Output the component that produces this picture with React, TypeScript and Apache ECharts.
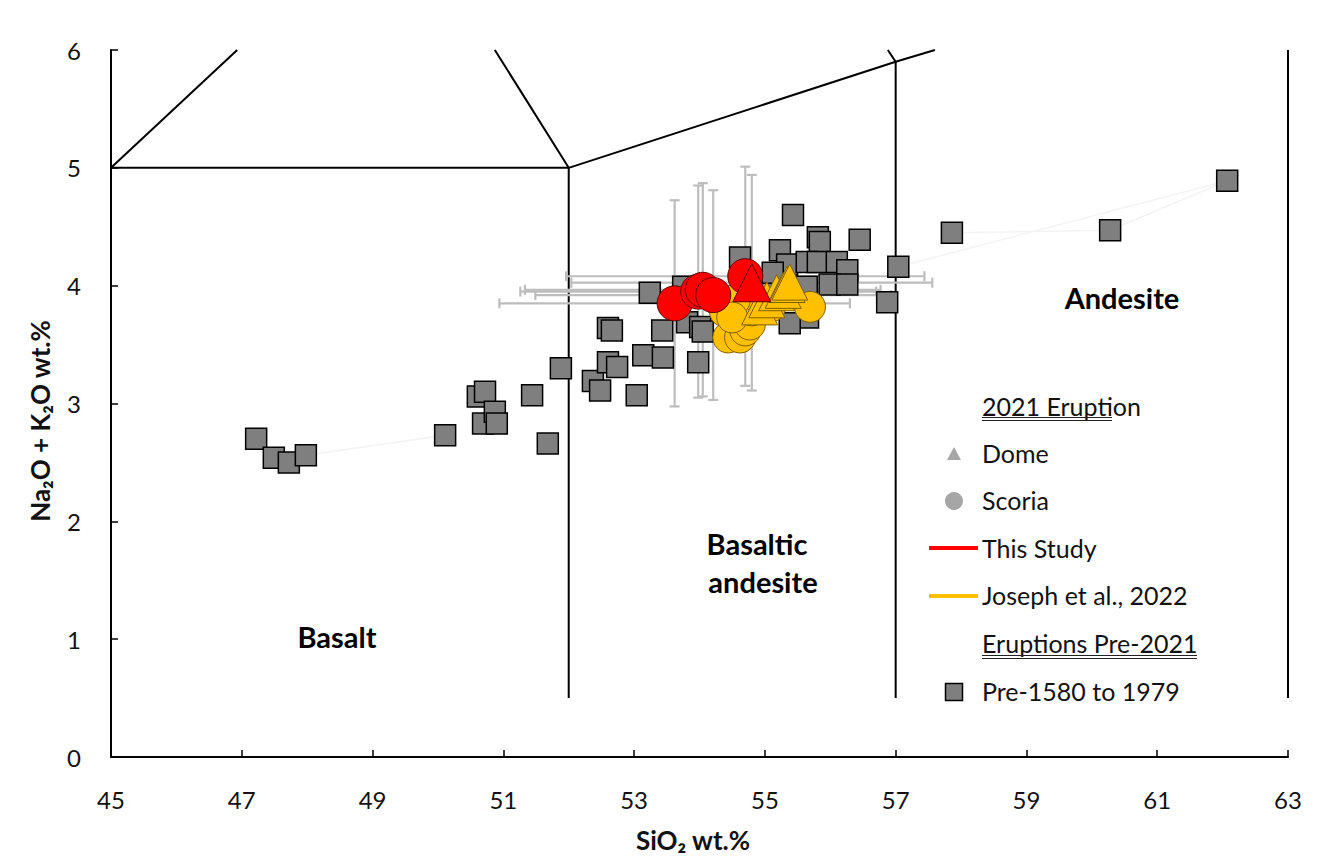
import React, { useEffect, useRef } from 'react';
import * as echarts from 'echarts';

// ---------- data (SiO2 wt.%, Na2O+K2O wt.%) ----------
const pre1580to1979: [number, number][] = [
  [47.22, 2.70], [47.49, 2.54], [47.72, 2.50], [47.98, 2.56],
  [50.11, 2.73], [50.61, 3.06], [50.72, 3.10], [50.69, 2.83], [50.87, 2.93], [50.90, 2.83],
  [51.44, 3.07], [51.68, 2.66], [51.88, 3.30],
  [52.37, 3.19], [52.48, 3.11], [52.60, 3.35], [52.74, 3.31], [52.60, 3.64], [52.66, 3.62],
  [53.04, 3.07], [53.14, 3.41], [53.43, 3.62], [53.44, 3.39], [53.24, 3.94], [53.75, 3.99],
  [53.98, 3.35], [53.81, 3.69], [54.01, 3.65], [54.05, 3.61], [54.62, 4.24],
  [55.43, 4.60], [55.23, 4.30], [55.81, 4.41], [55.84, 4.37], [56.45, 4.39],
  [55.34, 4.18], [55.64, 4.20], [55.81, 4.20], [56.10, 4.20], [56.26, 4.13],
  [55.99, 4.01], [56.26, 4.01], [55.64, 3.99], [55.66, 3.73], [55.38, 3.68],
  [55.19, 3.96], [55.12, 4.11], [56.87, 3.86], [57.04, 4.16],
  [57.86, 4.45], [60.28, 4.47], [62.07, 4.89],
];

// This study: [SiO2, total alkali, SiO2 error, alkali error]
const thisStudyScoria: [number, number, number, number][] = [
  [53.62, 3.85, 2.68, 0.875],
  [53.98, 3.95, 2.72, 0.90],
  [54.05, 3.965, 2.72, 0.905],
  [54.21, 3.92, 2.72, 0.89],
  [54.70, 4.08, 2.74, 0.93],
];
const thisStudyDome: [number, number, number, number][] = [
  [54.80, 4.025, 2.76, 0.915],
];

const josephScoria: [number, number][] = [
  [54.28, 3.88], [54.39, 3.78], [54.54, 3.67], [54.44, 3.56], [54.62, 3.56],
  [54.70, 3.62], [54.77, 3.67], [54.80, 3.79], [54.93, 3.88], [55.08, 3.82],
  [55.69, 3.82], [54.54, 3.88], [54.50, 3.73],
];
const josephDome: [number, number][] = [
  [54.92, 3.82], [55.03, 3.88], [55.18, 3.94], [55.28, 3.96], [55.34, 4.01], [55.38, 4.03],
];

// TAS field boundaries
const tasBoundaries: [number, number][][] = [
  [[45, 5], [52, 5]],
  [[45, 5], [46.93, 6]],
  [[52, 5], [50.87, 6]],
  [[52, 5], [57, 5.9], [57.6, 6]],
  [[57, 5.9], [56.88, 6]],
  [[52, 5], [52, 0.5]],
  [[57, 5.9], [57, 0.5]],
  [[63, 6], [63, 0.5]],
];

// faint connector lines between pre-2021 samples
const faintLinks: [number, number][][] = [
  [[47.98, 2.56], [50.11, 2.73]],
  [[57.04, 4.16], [62.07, 4.89]],
  [[57.86, 4.45], [60.28, 4.47], [62.07, 4.89]],
];

const xMin = 45, xMax = 63, xStep = 2;
const yMin = 0, yMax = 6, yStep = 1;

const FONT = 'Lato, "Open Sans", sans-serif';
const TXT = '#111';

export default function App() {
  const ref = useRef<HTMLDivElement>(null);

  useEffect(() => {
    document.body.style.margin = '0';
    document.body.style.overflow = 'hidden';
    if (!ref.current) return;
    const chart = echarts.init(ref.current, undefined, { renderer: 'svg' });

    const errStyle = { stroke: '#bdbdbd', lineWidth: 2.2 };
    const errorSeries = {
      type: 'custom',
      name: 'This Study errors',
      z: 3,
      silent: true,
      encode: { x: 0, y: 1 },
      data: [...thisStudyScoria, ...thisStudyDome],
      renderItem: (_p: any, api: any) => {
        const x = api.value(0), y = api.value(1), xe = api.value(2), ye = api.value(3);
        const l = api.coord([x - xe, y]);
        const r = api.coord([x + xe, y]);
        const t = api.coord([x, y + ye]);
        const b = api.coord([x, y - ye]);
        const c = 5;
        const ln = (x1: number, y1: number, x2: number, y2: number) => ({
          type: 'line', shape: { x1, y1, x2, y2 }, style: errStyle,
        });
        return {
          type: 'group',
          children: [
            ln(l[0], l[1], r[0], r[1]),
            ln(l[0], l[1] - c, l[0], l[1] + c),
            ln(r[0], r[1] - c, r[0], r[1] + c),
            ln(t[0], t[1], b[0], b[1]),
            ln(t[0] - c, t[1], t[0] + c, t[1]),
            ln(b[0] - c, b[1], b[0] + c, b[1]),
          ],
        };
      },
    };

    const boundarySeries = tasBoundaries.map((seg, i) => ({
      type: 'line',
      name: 'TAS boundary ' + (i + 1),
      data: seg,
      symbol: 'none',
      silent: true,
      z: 2,
      lineStyle: { color: '#000', width: 2 },
    }));
    const linkSeries = faintLinks.map((seg, i) => ({
      type: 'line',
      name: 'link ' + (i + 1),
      data: seg,
      symbol: 'none',
      silent: true,
      z: 1,
      lineStyle: { color: '#f3f3f3', width: 1.5 },
    }));

    const legendText = (text: string, y: number) => ({
      type: 'text', x: 982, y, z: 10,
      style: { text, fontSize: 25, fontFamily: FONT, fill: TXT, align: 'left', verticalAlign: 'middle' },
    });
    const uline = (x1: number, x2: number, y: number) => ({
      type: 'line', z: 10, shape: { x1, y1: y, x2, y2: y }, style: { stroke: '#222', lineWidth: 1 },
    });
    const fieldLabel = (text: string, x: number, y: number) => ({
      type: 'text', x, y, z: 10,
      style: { text, fontSize: 29, fontWeight: 'bold', fontFamily: FONT, fill: '#000', align: 'center', verticalAlign: 'middle' },
    });

    const option: any = {
      animation: false,
      backgroundColor: '#fff',
      grid: { left: 111, right: 37, top: 50, bottom: 102, containLabel: false },
      xAxis: {
        type: 'value', min: xMin, max: xMax, interval: xStep,
        axisLine: { show: true, onZero: false, lineStyle: { color: '#000', width: 2 } },
        axisTick: { show: true, inside: true, length: 7, lineStyle: { color: '#000', width: 1.5 } },
        axisLabel: { margin: 30, fontSize: 24, color: TXT, fontFamily: FONT },
        splitLine: { show: false },
      },
      yAxis: {
        type: 'value', min: yMin, max: yMax, interval: yStep,
        axisLine: { show: true, onZero: false, lineStyle: { color: '#000', width: 2 } },
        axisTick: { show: true, inside: true, length: 7, lineStyle: { color: '#000', width: 1.5 } },
        axisLabel: { margin: 30, fontSize: 24, color: TXT, fontFamily: FONT },
        splitLine: { show: false },
      },
      series: [
        ...linkSeries,
        ...boundarySeries,
        errorSeries,
        {
          type: 'scatter', name: 'Pre-1580 to 1979', z: 4,
          data: pre1580to1979, symbol: 'rect', symbolSize: 21,
          itemStyle: { color: '#7f7f7f', borderColor: '#000', borderWidth: 1.5, opacity: 1 },
        },
        {
          type: 'scatter', name: 'Joseph et al., 2022 Scoria', z: 5,
          data: josephScoria, symbol: 'circle', symbolSize: 31,
          itemStyle: { color: '#ffc000', borderColor: '#7f6000', borderWidth: 1, opacity: 1 },
        },
        {
          type: 'scatter', name: 'Joseph et al., 2022 Dome', z: 6,
          data: josephDome, symbol: 'triangle', symbolSize: 36,
          itemStyle: { color: '#ffc000', borderColor: '#7f6000', borderWidth: 1, opacity: 1 },
        },
        {
          type: 'scatter', name: 'This Study Scoria', z: 7,
          data: thisStudyScoria.map(d => [d[0], d[1]]), symbol: 'circle', symbolSize: 35,
          itemStyle: { color: '#ff0000', borderColor: '#600000', borderWidth: 1, opacity: 1 },
        },
        {
          type: 'scatter', name: 'This Study Dome', z: 8,
          data: thisStudyDome.map(d => [d[0], d[1]]), symbol: 'triangle', symbolSize: 38,
          itemStyle: { color: '#ff0000', borderColor: '#600000', borderWidth: 1, opacity: 1 },
        },
      ],
      graphic: [
        // axis titles
        {
          type: 'text', x: 693, y: 840, z: 10,
          style: { text: 'SiO₂ wt.%', fontSize: 26, fontWeight: 'bold', fontFamily: FONT, fill: TXT, align: 'center', verticalAlign: 'middle' },
        },
        {
          type: 'text', x: 40, y: 421, rotation: Math.PI / 2, z: 10,
          style: { text: 'Na₂O + K₂O wt.%', fontSize: 26, fontWeight: 'bold', fontFamily: FONT, fill: TXT, align: 'center', verticalAlign: 'middle' },
        },
        // field labels
        fieldLabel('Basalt', 337, 636),
        fieldLabel('Basaltic', 757, 543),
        fieldLabel('andesite', 763, 581),
        fieldLabel('Andesite', 1122, 297),
        // legend
        legendText('2021 Eruption', 406),
        uline(982, 1112, 417.5),
        uline(982, 1112, 420.5),
        {
          type: 'polygon', z: 10,
          shape: { points: [[954, 447], [961, 460], [947, 460]] },
          style: { fill: '#a6a6a6' },
        },
        legendText('Dome', 453),
        { type: 'circle', z: 10, shape: { cx: 954, cy: 501, r: 9 }, style: { fill: '#a6a6a6' } },
        legendText('Scoria', 500),
        { type: 'line', z: 10, shape: { x1: 929, y1: 548, x2: 978, y2: 548 }, style: { stroke: '#ff0000', lineWidth: 4 } },
        legendText('This Study', 548),
        { type: 'line', z: 10, shape: { x1: 929, y1: 596, x2: 978, y2: 596 }, style: { stroke: '#ffc000', lineWidth: 4 } },
        legendText('Joseph et al., 2022', 595),
        legendText('Eruptions Pre-2021', 643),
        uline(982, 1197, 655.5),
        uline(982, 1197, 658.5),
        {
          type: 'rect', z: 10, shape: { x: 945.5, y: 683.5, width: 17, height: 17 },
          style: { fill: '#7f7f7f', stroke: '#000', lineWidth: 1.5 },
        },
        legendText('Pre-1580 to 1979', 691),
      ],
    };

    chart.setOption(option);
    return () => chart.dispose();
  }, []);

  return <div ref={ref} style={{ width: 1325, height: 859 }} />;
}
